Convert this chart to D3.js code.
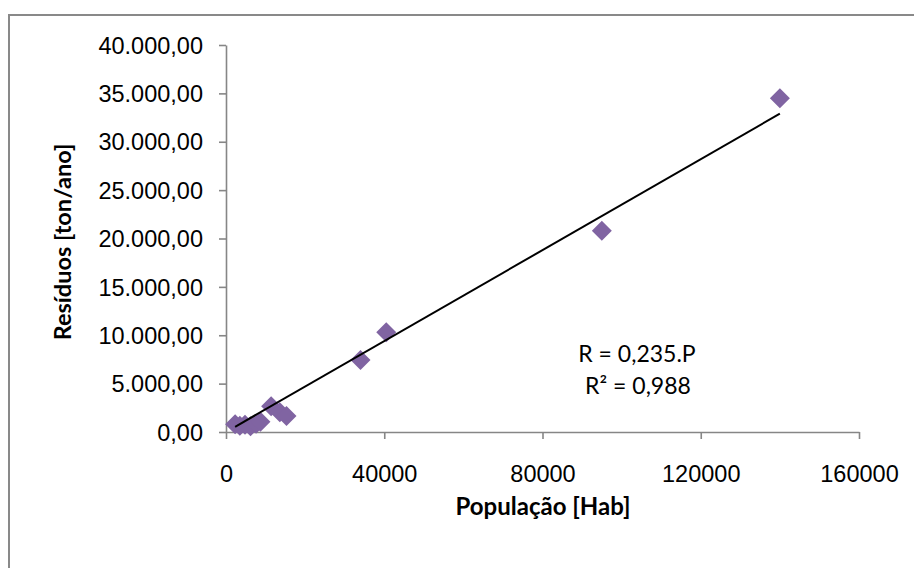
<!DOCTYPE html>
<html>
<head>
<meta charset="utf-8">
<script src="https://cdn.jsdelivr.net/npm/d3@7"></script>
<style>
  body { margin: 0; background: #fff; }
  svg { display: block; font-family: Lato, "Open Sans", sans-serif; }
  .axis path, .axis line { stroke: #868686; stroke-width: 1.6; }
  .axis text { fill: #000; font-size: 23.5px; }
</style>
</head>
<body>
<div id="chart"></div>
<script>
// data
var populacao = [2300, 3500, 4800, 6200, 7600, 8700, 11400, 13600, 15300, 34000, 40500, 95000, 140000];
var residuos  = [800, 650, 750, 600, 850, 1050, 2650, 2050, 1650, 7450, 10300, 20800, 34500];
var xTicks = [0, 40000, 80000, 120000, 160000];
var yTicks = [0, 5000, 10000, 15000, 20000, 25000, 30000, 35000, 40000];
var slope = 0.235, r2 = "0,988";

var w = 914, h = 568;
var svg = d3.select("#chart").append("svg").attr("width", w).attr("height", h);

// outer chart border (runs off the picture right and bottom)
svg.append("rect")
  .attr("x", 9).attr("y", 15).attr("width", 920).attr("height", 570)
  .attr("fill", "none").attr("stroke", "#898989").attr("stroke-width", 2);

var x = d3.scaleLinear().domain([0, 160000]).range([226, 859]);
var y = d3.scaleLinear().domain([0, 40000]).range([432, 45]);

var fmtY = function(d) {
  return d3.format(",.2f")(d).replace(/,/g, "#").replace(".", ",").replace(/#/g, ".");
};

svg.append("g").attr("class", "axis")
  .attr("transform", "translate(226,0)")
  .call(d3.axisLeft(y).tickValues(yTicks).tickFormat(fmtY).tickSize(7).tickPadding(16).tickSizeOuter(0))
  .selectAll("text").attr("dy", "0.35em");

svg.append("g").attr("class", "axis")
  .attr("transform", "translate(0,432)")
  .call(d3.axisBottom(x).tickValues(xTicks).tickFormat(d3.format("d")).tickSize(7).tickPadding(26).tickSizeOuter(0));

// axis titles
svg.append("text")
  .attr("transform", "translate(71,242) rotate(-90)")
  .attr("text-anchor", "middle").attr("font-weight", "bold").attr("font-size", "23.5px")
  .text("Resíduos [ton/ano]");

svg.append("text")
  .attr("x", 543).attr("y", 515)
  .attr("text-anchor", "middle").attr("font-weight", "bold").attr("font-size", "24px")
  .text("População [Hab]");

// points
svg.selectAll("path.pt")
  .data(populacao)
  .enter()
  .append("path")
  .attr("class", "pt")
  .attr("d", d3.symbol().type(d3.symbolSquare).size(200))
  .attr("transform", function(d, i) { return "translate(" + x(d) + "," + y(residuos[i]) + ") rotate(45)"; })
  .attr("fill", "#8064A2");

// trend line R = 0,235.P
var pMin = d3.min(populacao), pMax = d3.max(populacao);
svg.append("line")
  .attr("x1", x(pMin)).attr("y1", y(slope * pMin))
  .attr("x2", x(pMax)).attr("y2", y(slope * pMax))
  .attr("stroke", "#000").attr("stroke-width", 2);

svg.append("text")
  .attr("x", 637).attr("y", 362).attr("text-anchor", "middle").attr("font-size", "23px")
  .text("R = 0,235.P");
svg.append("text")
  .attr("x", 638).attr("y", 394).attr("text-anchor", "middle").attr("font-size", "23px")
  .text("R² = " + r2);
</script>
</body>
</html>
